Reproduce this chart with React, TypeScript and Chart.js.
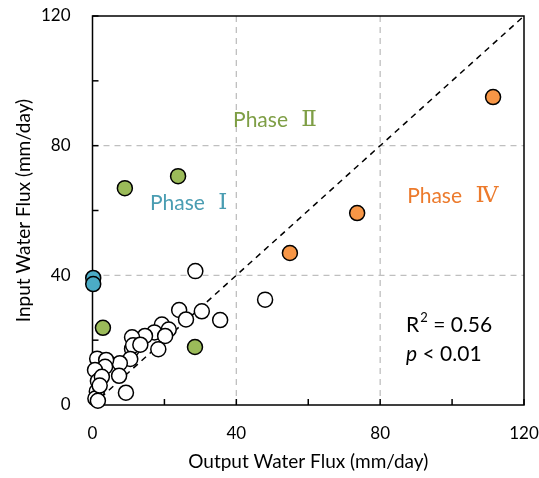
import React, { useEffect, useRef } from "react";
import { Chart, registerables } from "chart.js";

Chart.register(...registerables);

const whitePoints: [number, number][] = [
  [28.6, 41.3], [48.0, 32.5], [24.1, 29.3], [26.0, 26.4], [30.4, 28.9], [35.5, 26.2],
  [19.3, 24.8], [21.2, 23.3], [17.2, 22.4], [20.2, 21.3], [14.6, 21.3], [11.0, 20.9],
  [18.3, 17.2], [11.0, 17.3], [11.3, 18.4], [10.5, 14.2], [7.6, 12.9], [7.4, 9.0],
  [9.3, 3.8], [1.3, 14.3], [3.8, 13.9], [3.5, 11.8], [0.7, 10.8], [1.5, 7.4],
  [2.6, 8.7], [1.2, 4.2], [0.8, 2.0], [1.5, 1.3], [2.0, 6.0], [13.3, 18.6],
];
const phase1Points: [number, number][] = [[0.2, 39.2], [0.2, 37.3]];
const phase2Points: [number, number][] = [[9.0, 66.9], [23.8, 70.6], [2.9, 23.8], [28.5, 17.9]];
const phase4Points: [number, number][] = [[111.4, 95.0], [73.6, 59.2], [54.9, 46.9]];
const oneToOne: [number, number][] = [[0, 0], [120, 120]];

const xTicks = [0, 20, 40, 60, 80, 100, 120];
const yTicks = [0, 20, 40, 60, 80, 100, 120];
const gridValues = [40, 80];
const labelValues = [0, 40, 80, 120];

const toXY = (arr: [number, number][]) => arr.map(([x, y]) => ({ x, y }));

const FONT = "Lato, 'Noto Sans', sans-serif";
const NUMFONT = "'DejaVu Serif', 'Noto Sans CJK SC', serif";

const overlay = {
  id: "overlay",
  beforeDatasetsDraw(chart: any) {
    const { ctx, chartArea: a, scales } = chart;
    const xs = scales.x, ys = scales.y;
    ctx.save();
    ctx.strokeStyle = "#BFBFBF";
    ctx.lineWidth = 1.3;
    ctx.setLineDash([6, 5]);
    gridValues.forEach((v) => {
      const px = xs.getPixelForValue(v);
      ctx.beginPath(); ctx.moveTo(px, a.top); ctx.lineTo(px, a.bottom); ctx.stroke();
      const py = ys.getPixelForValue(v);
      ctx.beginPath(); ctx.moveTo(a.left, py); ctx.lineTo(a.right, py); ctx.stroke();
    });
    ctx.setLineDash([]);
    ctx.strokeStyle = "#000";
    ctx.lineWidth = 1.5;
    ctx.strokeRect(a.left, a.top, a.right - a.left, a.bottom - a.top);
    const tl = 6;
    xTicks.forEach((v) => {
      const px = xs.getPixelForValue(v);
      ctx.beginPath(); ctx.moveTo(px, a.bottom); ctx.lineTo(px, a.bottom - tl); ctx.stroke();
    });
    yTicks.forEach((v) => {
      const py = ys.getPixelForValue(v);
      ctx.beginPath(); ctx.moveTo(a.left, py); ctx.lineTo(a.left + tl, py); ctx.stroke();
    });
    ctx.restore();
  },
  afterDatasetsDraw(chart: any) {
    const { ctx, scales } = chart;
    const xs = scales.x, ys = scales.y;
    ctx.save();
    ctx.textBaseline = "middle";
    ctx.textAlign = "left";
    const phase = (num: string, x: number, y: number, c: string) => {
      const px = xs.getPixelForValue(x);
      const py = ys.getPixelForValue(y);
      ctx.fillStyle = c;
      ctx.font = `21px ${FONT}`;
      ctx.fillText("Phase", px, py);
      const w = ctx.measureText("Phase ").width;
      ctx.font = `23px ${NUMFONT}`;
      ctx.fillText(num, px + w + 8, py);
    };
    phase("Ⅰ", 16, 62.3, "#4A9DB2");
    phase("Ⅱ", 39.1, 87.9, "#7E9E45");
    phase("Ⅳ", 87.5, 64.5, "#EC7A2C");
    // R² = 0.56
    const rx = xs.getPixelForValue(87.2);
    const ry = ys.getPixelForValue(24.7);
    ctx.fillStyle = "#000";
    ctx.font = `21px ${FONT}`;
    ctx.fillText("R", rx, ry);
    const rw = ctx.measureText("R").width;
    ctx.font = `13px ${FONT}`;
    ctx.fillText("2", rx + rw + 1, ry - 7);
    const sw = ctx.measureText("2").width;
    ctx.font = `21px ${FONT}`;
    ctx.fillText(" = 0.56", rx + rw + sw + 1, ry);
    const py = ys.getPixelForValue(15.7);
    ctx.font = `italic 21px ${FONT}`;
    ctx.fillText("p", rx, py);
    const pw = ctx.measureText("p").width;
    ctx.font = `21px ${FONT}`;
    ctx.fillText(" < 0.01", rx + pw, py);
    ctx.restore();
  },
};

const zeroPad = (s: any) => {
  s.paddingTop = 0; s.paddingBottom = 0; s.paddingLeft = 0; s.paddingRight = 0;
};

export default function App() {
  const ref = useRef<HTMLCanvasElement>(null);
  useEffect(() => {
    document.body.style.margin = "0";
    const ptStyle = (bg: string) => ({
      backgroundColor: bg,
      borderColor: "#000",
      borderWidth: 1.5,
      pointRadius: 7.5,
      showLine: false,
      clip: false as any,
      order: 1,
    });
    const chart = new Chart(ref.current!, {
      type: "scatter",
      data: {
        datasets: [
          {
            type: "line",
            data: toXY(oneToOne),
            borderColor: "#000",
            borderWidth: 1.5,
            borderDash: [6, 5],
            pointRadius: 0,
            order: 10,
          } as any,
          { data: toXY(whitePoints), ...ptStyle("#FFFFFF") },
          { data: toXY(phase1Points), ...ptStyle("#4BACC6") },
          { data: toXY(phase2Points), ...ptStyle("#9BBB59") },
          { data: toXY(phase4Points), ...ptStyle("#F79646") },
        ],
      },
      options: {
        animation: false,
        responsive: false,
        layout: { padding: { left: 0, right: 15, top: 16, bottom: 0 } },
        plugins: { legend: { display: false }, tooltip: { enabled: false } },
        scales: {
          x: {
            type: "linear",
            min: 0,
            max: 120,
            afterBuildTicks: (s: any) => { s.ticks = labelValues.map((v) => ({ value: v })); },
            afterFit: (s: any) => { s.height = 73; zeroPad(s); },
            grid: { display: false, drawTicks: false },
            border: { display: false },
            ticks: { color: "#000", padding: 18, font: { size: 17, family: FONT }, maxRotation: 0 },
            title: { display: true, text: "Output Water Flux (mm/day)", color: "#000", font: { size: 19, family: FONT }, padding: { top: 0, bottom: 5 } },
          },
          y: {
            type: "linear",
            min: 0,
            max: 120,
            afterBuildTicks: (s: any) => { s.ticks = labelValues.map((v) => ({ value: v })); },
            afterFit: (s: any) => { s.width = 92.5; zeroPad(s); },
            grid: { display: false, drawTicks: false },
            border: { display: false },
            ticks: { color: "#000", padding: 22, font: { size: 17, family: FONT } },
            title: { display: true, text: "Input Water Flux (mm/day)", color: "#000", font: { size: 19, family: FONT }, padding: { top: 12, bottom: 0 } },
          },
        },
      },
      plugins: [overlay],
    });
    return () => chart.destroy();
  }, []);
  return <canvas ref={ref} width={539} height={478} style={{ display: "block" }} />;
}
